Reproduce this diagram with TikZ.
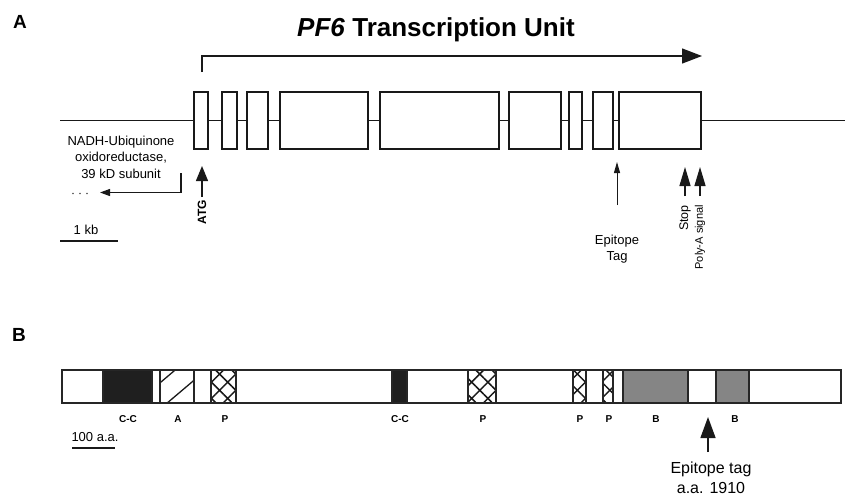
\documentclass[tikz,border=0pt]{standalone}
\usepackage{fontspec}
\setmainfont{Liberation Sans}
\usetikzlibrary{arrows.meta,patterns.meta}
\begin{document}
\begin{tikzpicture}[x=1pt,y=-1pt,
  exon/.style={draw=black!90, fill=white, line width=1.9pt, inner sep=0pt, outer sep=0pt, minimum height=57pt},
  gline/.style={draw=black!90, line width=1.9pt},
  seg/.style={draw=black!85, line width=1.3pt},
  cross/.style={seg, pattern={Hatch[angle=45,distance=11.5pt,line width=1.5pt]}, pattern color=black!90},
  dlbl/.style={font=\bfseries\fontsize{10}{12}\selectfont, inner sep=0pt},
  txt/.style={font=\fontsize{13}{16.5}\selectfont, inner sep=0pt, align=center},
  rtxt/.style={font=\fontsize{10.5}{12}\selectfont, inner sep=0pt, rotate=90, anchor=east},
  panel/.style={font=\bfseries\fontsize{19}{20}\selectfont, inner sep=0pt},
]
\fill[white] (0,0) rectangle (849,496);
\useasboundingbox (0,0) rectangle (849,496);

% ---------- Panel A ----------
\node[panel] (pA) at (20,22) {A};
\node[font=\bfseries\fontsize{26}{28}\selectfont, inner sep=0pt] (title) at (436,30) {\textit{PF6} Transcription Unit};

% exons
\foreach \n/\a/\b in {1/194/208,2/222/237,3/247/268,4/280/368,5/380/499,6/509/561,7/569/582,8/593/613,9/619/701}{
  \node[exon, minimum width={\b-\a}] (e\n) at ({(\a+\b)/2},120.5) {};
}
\coordinate (L) at (60,120.5);
\coordinate (R) at (845,120.5);
\draw[gline] (L) -- (e1.west);
\draw[gline] (e1.east) -- (e2.west);
\draw[gline] (e2.east) -- (e3.west);
\draw[gline] (e3.east) -- (e4.west);
\draw[gline] (e4.east) -- (e5.west);
\draw[gline] (e5.east) -- (e6.west);
\draw[gline] (e6.east) -- (e7.west);
\draw[gline] (e7.east) -- (e8.west);
\draw[gline] (e8.east) -- (e9.west);
\draw[gline] (e9.east) -- (R);

% transcription arrow
\coordinate (ts) at (202,72);
\coordinate (te) at (702,56);
\draw[line width=1.3pt, black!90, -{Triangle[length=20pt,width=15pt]}] (ts) |- (te);

% NADH neighbour gene
\node[txt] (nadh) at (121,157) {NADH-Ubiquinone\\oxidoreductase,\\39 kD subunit};
\coordinate (n0) at (181,173);
\coordinate (n1) at (100,192.5);
\draw[line width=1.2pt, black!90, -{Triangle[length=10pt,width=7pt]}] (n0) |- (n1);
\foreach \x in {73,80,87} \fill[black!70] (\x,193.5) circle (0.8);

% ATG
\coordinate (atg0) at (202,197);
\coordinate (atg1) at (202,166);
\draw[line width=1.3pt, black!90, -{Triangle[length=15pt,width=12pt]}] (atg0) -- (atg1);
\node[font=\bfseries\fontsize{12}{14}\selectfont, inner sep=0pt, rotate=90, anchor=east] (atg) at (202,200) {ATG};

% epitope tag (gene)
\coordinate (ep0) at (617,205);
\coordinate (ep1) at (617,162);
\draw[line width=1pt, black!90, -{Triangle[length=11pt,width=6pt]}] (ep0) -- (ep1);
\node[txt] (eptxt) at (617,249) {Epitope\\Tag};

% stop and poly-A
\coordinate (st0) at (685,196);
\coordinate (st1) at (685,167);
\coordinate (pa0) at (700,196);
\coordinate (pa1) at (700,167);
\draw[line width=1.2pt, black!90, -{Triangle[length=19pt,width=11pt]}] (st0) -- (st1);
\draw[line width=1.2pt, black!90, -{Triangle[length=19pt,width=11pt]}] (pa0) -- (pa1);
\node[rtxt, font=\fontsize{12.5}{14}\selectfont] (stop) at (685,205) {Stop};
\node[rtxt, font=\fontsize{11}{13}\selectfont] (polya) at (700,205) {Poly-A signal};

% scale bar A
\node[txt] (kb) at (86,230) {1 kb};
\coordinate (kb0) at (60,241);
\coordinate (kb1) at (118,241);
\draw[line width=1.9pt, black!90] (kb0) -- (kb1);

% ---------- Panel B ----------
\node[panel] (pB) at (19,335) {B};

\draw[seg, fill=white] (62,370) rectangle (841,403);
% coiled coil
\draw[seg, fill=black!88] (103,370) rectangle (152,403);
\draw[seg, fill=black!88] (392,370) rectangle (407,403);
% A domain (hatched)
\begin{scope}
  \clip (160,370) rectangle (194,403);
  \draw[line width=1.3pt, black!90] (150,391.3) -- (180,365.9);
  \draw[line width=1.3pt, black!90] (166,404) -- (200,375.2);
\end{scope}
\draw[seg] (160,370) rectangle (194,403);
% P domains
\draw[cross] (211,370) rectangle (236,403);
\draw[cross] (468,370) rectangle (496,403);
\draw[cross] (573,370) rectangle (586,403);
\draw[cross] (603,370) rectangle (613,403);
% B domains
\draw[seg, fill=black!48] (623,370) rectangle (688,403);
\draw[seg, fill=black!48] (716,370) rectangle (749,403);

% domain labels
\node[dlbl] (l1) at (128,419) {C-C};
\node[dlbl] (l2) at (178,419) {A};
\node[dlbl] (l3) at (225,419) {P};
\node[dlbl] (l4) at (400,419) {C-C};
\node[dlbl] (l5) at (483,419) {P};
\node[dlbl] (l6) at (580,419) {P};
\node[dlbl] (l7) at (609,419) {P};
\node[dlbl] (l8) at (656,419) {B};
\node[dlbl] (l9) at (735,419) {B};

% epitope tag (protein)
\coordinate (bt0) at (708,452);
\coordinate (bt1) at (708,417);
\draw[line width=1.4pt, black!90, -{Triangle[length=21pt,width=15pt]}] (bt0) -- (bt1);
\node[font=\fontsize{16}{20}\selectfont, inner sep=0pt, align=center] (bttxt) at (711,478) {Epitope tag\\a.a. 1910};

% scale bar B
\node[txt] (aa) at (95,437) {100 a.a.};
\coordinate (aa0) at (72,448);
\coordinate (aa1) at (115,448);
\draw[line width=1.9pt, black!90] (aa0) -- (aa1);
\end{tikzpicture}
\end{document}
